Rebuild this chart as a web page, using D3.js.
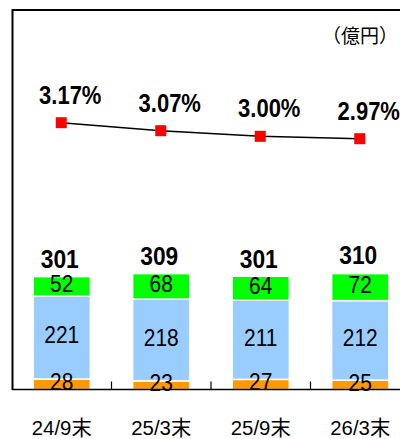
<!DOCTYPE html>
<html><head><meta charset="utf-8">
<script src="https://cdn.jsdelivr.net/npm/d3@7"></script>
<style>html,body{margin:0;padding:0;background:#fff;}svg{display:block;}</style>
</head><body>
<script>
const categories = ["24/9末", "25/3末", "25/9末", "26/3末"];
const seriesOrange = [28, 23, 27, 25];
const seriesBlue = [221, 218, 211, 212];
const seriesGreen = [52, 68, 64, 72];
const totals = [301, 309, 301, 310];
const ratios = [3.17, 3.07, 3.00, 2.97];
const ratioLabels = ["3.17%", "3.07%", "3.00%", "2.97%"];
const unitLabel = "（億円）";

const W = 400, H = 439;
const font = "'Liberation Sans', Arial, 'Noto Sans CJK JP', sans-serif";
const svg = d3.select("body").append("svg").attr("width", W).attr("height", H);

function addText(px, py, str, o) {
  const t = svg.append("text")
    .attr("transform", `translate(${px},${py}) scale(${o.sx || 1},1)`)
    .attr("text-anchor", o.anchor || "middle")
    .attr("font-family", font).attr("font-size", o.size)
    .attr("font-weight", o.weight || "normal").attr("fill", "#000").text(str);
  if (o.central) t.attr("dominant-baseline", "central");
  return t;
}

const x = d3.scaleBand().domain(categories).range([12, 410]).padding(0);
const barW = x.bandwidth() * 0.575;
const y = d3.scaleLinear().domain([0, 1000]).range([389.5, 14.5]);
const yPct = d3.scaleLinear().domain([2, 3.5]).range([216.3, 96.3]);

// frame
svg.append("line").attr("x1", 12).attr("x2", W).attr("y1", 10).attr("y2", 10)
  .attr("stroke", "#000").attr("stroke-width", 2);
svg.append("line").attr("x1", 12.5).attr("x2", 12.5).attr("y1", 9).attr("y2", 390)
  .attr("stroke", "#000").attr("stroke-width", 2);

const stacks = [
  {vals: seriesOrange, color: "#FF9900"},
  {vals: seriesBlue, color: "#99CCFF"},
  {vals: seriesGreen, color: "#00FF00"}
];

categories.forEach((c, i) => {
  let base = 0;
  stacks.forEach(s => {
    const v = s.vals[i];
    const y0 = y(base), y1 = y(base + v);
    svg.append("rect").attr("x", x(c) + (x.bandwidth() - barW) / 2).attr("width", barW)
      .attr("y", y1).attr("height", y0 - y1).attr("fill", s.color)
      .attr("stroke", "#fff").attr("stroke-width", 1.5);
    base += v;
  });
});

// labels on segments
categories.forEach((c, i) => {
  let base = 0;
  stacks.forEach(s => {
    const v = s.vals[i];
    addText(x(c) + x.bandwidth() / 2, (y(base) + y(base + v)) / 2 - 2, v,
      {size: 23, sx: 0.91, central: true});
    base += v;
  });
  addText(x(c) + x.bandwidth() / 2 - 2, y(totals[i]) - 9, totals[i],
    {size: 25, sx: 0.91, weight: "bold"});
});

// baseline axis
const axis = d3.axisBottom(x).tickSize(0).tickFormat("");
const gAx = svg.append("g").attr("transform", "translate(0,389.5)").call(axis);
gAx.select(".domain").attr("stroke", "#000").attr("stroke-width", 1.5).attr("d", `M12,0H${W}`);
categories.slice(1).forEach(c => {
  gAx.append("line").attr("x1", x(c)).attr("x2", x(c)).attr("y1", 0).attr("y2", -8)
    .attr("stroke", "#000").attr("stroke-width", 1.2);
});
categories.forEach(c => {
  addText(x(c) + x.bandwidth() / 2, 435, c, {size: 21, sx: 0.97});
});

// line
const cx = c => x(c) + x.bandwidth() / 2 - 0.5;
const line = d3.line().x((d, i) => cx(categories[i])).y(d => yPct(d));
svg.append("path").datum(ratios).attr("d", line).attr("fill", "none")
  .attr("stroke", "#000").attr("stroke-width", 1.6);
ratios.forEach((r, i) => {
  svg.append("rect").attr("x", cx(categories[i]) - 5.5).attr("y", yPct(r) - 5.5)
    .attr("width", 11).attr("height", 11).attr("fill", "#FF0000");
  addText(cx(categories[i]) + 9, yPct(r) - 19, ratioLabels[i],
    {size: 25, sx: 0.88, weight: "bold"});
});

addText(398, 43, unitLabel, {size: 19, anchor: "end"});
</script>
</body></html>
